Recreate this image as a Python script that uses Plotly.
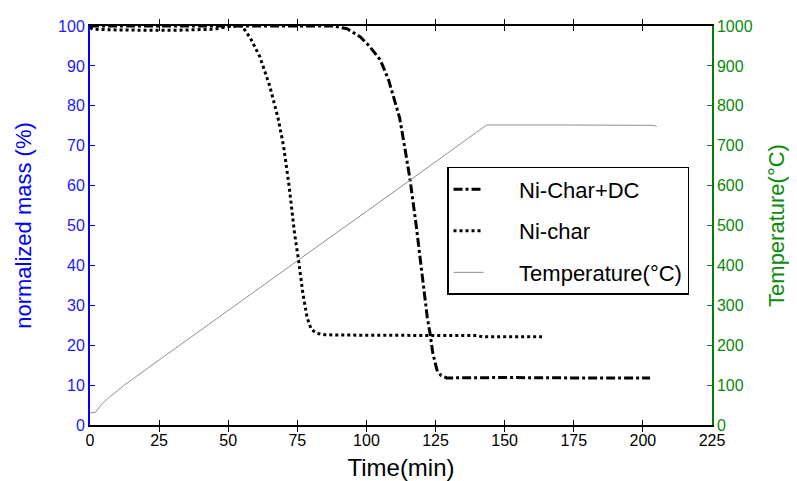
import plotly.graph_objects as go

# Ni-Char+DC (dash-dot)
dc_time = [0, 88, 93, 97.7, 101, 105, 108, 110, 112, 114, 115.8, 118, 120.5, 122, 123, 124, 125.5, 127, 129, 150, 175, 202.6]
dc_mass = [100, 100, 99.3, 97.3, 95, 91.5, 86.5, 82, 77, 69, 61.4, 50, 35, 27, 23, 18, 13.8, 12.4, 11.8, 11.9, 11.8, 11.8]

# Ni-char (dotted)
nc_time = [0, 1, 10, 30, 45, 50, 55, 58, 61.5, 65, 68, 70, 72, 74, 75.5, 77, 78.5, 80, 82, 85, 100, 140, 142, 163.5]
nc_mass = [99.6, 99.2, 99.0, 98.9, 99.2, 99.9, 100, 97, 92.2, 85, 77, 70, 60, 48, 41, 33, 27, 24, 23, 22.6, 22.5, 22.4, 22.1, 22.1]

# Temperature (right axis)
t_time = [0, 2, 4, 7, 10, 12, 20, 30, 40, 50, 60, 70, 80, 90, 100, 110, 120, 130, 140, 143.5, 170, 204, 205]
t_temp = [30, 32, 50, 70, 86, 98, 138, 188, 237, 287, 336, 386, 436, 486, 535, 585, 634, 684, 734, 752, 752, 751, 748]

x_ticks = [0, 25, 50, 75, 100, 125, 150, 175, 200, 225]
y_ticks = [0, 10, 20, 30, 40, 50, 60, 70, 80, 90, 100]
y2_ticks = [0, 100, 200, 300, 400, 500, 600, 700, 800, 900, 1000]

series_names = ["Ni-Char+DC", "Ni-char", "Temperature(°C)"]

BASE = "Liberation Sans, Arial, sans-serif"
PAD = "\u00a0"

fig = go.Figure()
fig.add_trace(go.Scatter(x=dc_time, y=dc_mass, mode="lines", name=PAD * 5 + series_names[0],
                         line=dict(color="black", width=3, dash="dashdot"), legendgroup="a"))
fig.add_trace(go.Scatter(x=nc_time, y=nc_mass, mode="lines", name=PAD * 5 + series_names[1],
                         line=dict(color="black", width=3, dash="dot"), legendgroup="b"))
fig.add_trace(go.Scatter(x=t_time, y=t_temp, mode="lines", name=PAD * 5 + series_names[2],
                         line=dict(color="#8f8f8f", width=1), yaxis="y2", legendgroup="c"))

fig.update_layout(
    width=789, height=473,
    margin=dict(l=82, r=85, t=18, b=56),
    paper_bgcolor="white", plot_bgcolor="white",
    font=dict(family=BASE, size=16, color="black"),
    xaxis=dict(range=[0, 225], tickvals=x_ticks, ticks="inside", ticklen=5, tickcolor="black",
               showline=True, linecolor="black", linewidth=2, mirror="allticks", showgrid=False,
               zeroline=False, tickfont=dict(size=16, color="black"), automargin=False,
               title=dict(text="Time(min)", font=dict(family=BASE, size=24, color="black"), standoff=13)),
    yaxis=dict(range=[0, 100], tickvals=y_ticks, ticks="inside", ticklen=5, tickcolor="blue",
               showline=True, linecolor="blue", linewidth=2, showgrid=False, zeroline=False,
               tickfont=dict(size=16, color="#1a1aff"), automargin=False,
               title=dict(text="normalized mass (%)", font=dict(family=BASE, size=22, color="blue"), standoff=20)),
    yaxis2=dict(range=[0, 1000], tickvals=y2_ticks, overlaying="y", side="right", ticks="inside",
                ticklen=5, tickcolor="#1f6f6f", showline=True, linecolor="#0a7a0a", linewidth=1.5,
                showgrid=False, zeroline=False, tickfont=dict(size=16, color="#0a8a0a"), automargin=False,
                title=dict(text="Temperature(°C)", font=dict(family=BASE, size=22, color="#0a8a0a"), standoff=17)),
    legend=dict(x=0.574, y=0.647, xanchor="left", yanchor="top", bgcolor="white",
                bordercolor="black", borderwidth=1.5, font=dict(family=BASE, size=22, color="black"),
                tracegroupgap=10, traceorder="grouped"),
    showlegend=True,
)

fig.write_html("out.html")
